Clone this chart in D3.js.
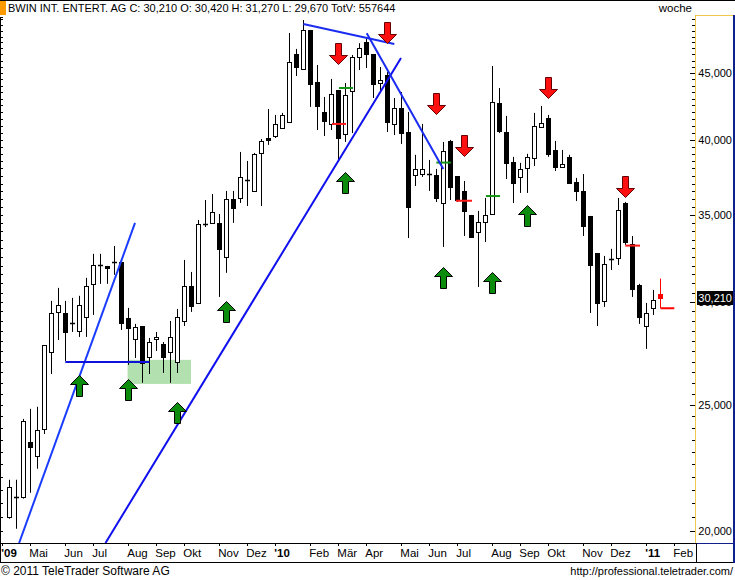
<!DOCTYPE html>
<html><head><meta charset="utf-8">
<script src="https://cdn.jsdelivr.net/npm/d3@7"></script>
<style>
body{margin:0;background:#fff}
svg{display:block}
text{font-family:"Liberation Sans",Arial,sans-serif}
</style>
</head><body>
<svg id="c" width="735" height="580"></svg>
<script>
// ---------- DATA (weekly candles, BWIN, Apr 2009 - Jan 2011) ----------
const title = "BWIN INT. ENTERT. AG";
const totalVolume = 557644;
const firstWeek = new Date(2009, 3, 10);
const opens  = [20.51,21.25,21.25,23.42,22.85,23.96,27.46,29.48,29.42,28.91,28.50,29.21,30.98,32.03,31.98,32.20,32.20,29.16,28.10,28.75,27.22,28.10,27.85,27.46,26.98,29.01,30.87,29.95,34.45,34.51,34.51,32.49,36.00,36.07,37.24,36.52,39.06,40.11,40.25,40.83,41.26,46.54,45.32,48.56,44.29,42.00,41.12,43.67,40.39,43.59,46.30,47.52,46.54,44.21,44.84,41.12,42.30,40.54,37.56,37.63,37.63,37.56,35.75,39.90,37.50,36.52,35.00,33.96,34.57,35.06,42.67,40.54,38.45,37.44,38.03,38.72,40.90,41.56,39.27,38.10,38.79,37.10,36.52,34.94,32.72,30.06,32.38,32.43,35.75,33.25,30.92,28.75,29.69,30.42];
const highs  = [21.90,21.90,24.39,24.83,24.92,27.80,30.06,30.76,30.06,30.22,30.33,31.31,32.67,32.67,31.98,33.13,32.32,29.69,28.86,28.75,28.15,28.45,27.95,29.01,29.63,32.32,31.64,34.69,35.94,36.32,35.06,36.52,36.52,39.13,38.51,39.06,40.04,42.22,41.78,41.93,48.30,46.96,49.42,48.56,45.64,43.13,44.53,43.67,44.21,46.46,47.44,47.88,46.54,45.48,45.08,43.05,43.51,42.00,38.93,41.12,38.58,37.97,39.83,39.97,37.50,37.17,35.00,35.25,36.07,45.56,43.82,41.71,38.79,38.38,39.00,41.93,42.45,41.78,39.90,39.27,38.93,37.37,37.63,34.94,32.72,32.55,32.96,36.07,35.81,33.72,30.98,29.95,30.65,31.27];
const lows   = [20.44,20.08,21.18,21.40,22.33,23.75,26.41,28.05,27.03,28.45,28.20,28.20,29.32,30.98,30.98,31.48,28.55,26.84,27.17,26.00,26.41,27.51,26.46,26.00,26.46,28.75,29.48,29.95,34.26,34.51,30.27,31.59,34.51,35.75,35.56,36.45,35.56,39.62,40.11,40.83,41.26,44.76,45.32,42.38,40.68,40.25,40.68,38.58,39.83,40.46,45.24,45.40,43.05,43.51,40.54,40.32,39.69,33.60,36.84,37.44,36.52,35.81,33.07,35.94,35.81,33.72,33.60,30.81,33.36,35.06,40.46,37.30,35.75,36.39,36.39,38.17,40.83,38.79,37.83,38.10,36.97,35.87,33.72,29.42,28.75,29.74,31.75,32.03,33.19,30.27,28.86,27.61,29.32,29.67];
const closes = [21.63,21.20,24.31,23.21,23.92,27.80,29.42,29.85,28.45,28.90,29.85,30.87,32.03,32.05,31.86,32.22,28.91,28.65,28.70,26.93,27.95,28.20,27.22,28.20,29.21,30.87,29.80,34.45,34.47,35.19,32.96,36.00,35.43,37.44,37.22,39.00,39.90,39.97,41.12,41.78,45.88,45.48,48.56,44.14,42.45,41.33,43.36,40.11,43.28,46.30,47.03,46.54,44.14,44.45,41.26,42.30,40.46,35.50,37.97,37.97,37.60,36.07,39.20,36.78,35.94,35.25,33.66,34.57,35.00,42.75,40.61,38.38,37.04,37.97,38.79,40.97,41.19,39.00,38.10,38.31,37.04,36.52,34.32,32.03,29.95,32.09,32.36,35.31,33.36,30.70,29.21,29.42,30.11,30.21];
const priceTicks = [20, 25, 30, 35, 40, 45];
const monthNames = ["Jan","Feb","Mär","Apr","Mai","Jun","Jul","Aug","Sep","Okt","Nov","Dez"];
// annotations: [weekIndex, price]
const trendSteepLine = [[2.4, 19.58], [18.96, 34.51]];
const trendLongLine  = [[14.74, 19.58], [56.96, 46.21]];
const supportLine    = [[9, 26.98], [21, 26.98]];
const topLine        = [[43, 49.08], [56, 47.37]];
const fallLine       = [[52.06, 48.28], [63, 37.97]];
const zoneBox = {from: 17.9, to: 26.96, low: 25.95, high: 27.08};
const upArrows   = [[11,26.37],[18,26.18],[25,25.14],[32,30.06],[49,37.77],[63,31.92],[70,31.64],[75,35.62]];
const downArrows = [[48,45.72],[55,47.44],[62,41.85],[66,38.86],[78,43.05],[89,36.13]];
const signalMarks = [[48.1,50.1,43.82,"g"],[47.1,49.1,41.12,"r"],[62,64.1,38.40,"g"],[64.8,67.1,35.89,"r"],[69.1,71.1,36.19,"g"],[89,91.1,33.15,"r"]];

// ---------- LAYOUT ----------
const svg = d3.select("#c");
const PL = 0, PR = 695, PT = 17, PB = 543;
const DAY = 864e5;
const origin = d3.timeDay.offset(firstWeek, -7);
const idxDate = i => new Date(origin.getTime() + i * 7 * DAY);
const x = d3.scaleTime().domain([origin, idxDate(100)]).range([2.3, 702.3]);
const y = d3.scaleLog().domain([19.58, 49.69]).range([PB, PT]);
const xi = i => x(idxDate(i));
const loc = d3.formatLocale({decimal: ",", thousands: ".", grouping: [3], currency: ["", "€"]});
const fmt = loc.format(".3f");
const crisp = v => Math.round(v) + 0.5;

const candles = opens.map((o, k) => ({date: d3.timeDay.offset(firstWeek, 7 * k), o, h: highs[k], l: lows[k], c: closes[k], last: k === opens.length - 1}));
const last = candles[candles.length - 1];

// frame / header
svg.append("line").attr("x1",0).attr("x2",735).attr("y1",0.5).attr("y2",0.5).attr("stroke","#000");
svg.append("rect").attr("x",0).attr("y",1).attr("width",6).attr("height",14).attr("fill","#ff9900");
svg.append("text").attr("x",8).attr("y",12).attr("font-size",11).attr("fill","#000")
  .text(`${title} C: ${fmt(last.c)} O: ${fmt(last.o)} H: ${fmt(last.h)} L: ${fmt(last.l)} TotV: ${totalVolume}`);
svg.append("text").attr("x",692).attr("y",12).attr("text-anchor","end").attr("font-size",11.5).text("woche");

// clip
svg.append("clipPath").attr("id","pc").append("rect").attr("x",PL+1).attr("y",PT).attr("width",PR-PL-1).attr("height",PB-PT);
const plot = svg.append("g").attr("clip-path","url(#pc)");

// zone box
plot.append("rect").attr("x",xi(zoneBox.from)).attr("y",y(zoneBox.high))
  .attr("width",xi(zoneBox.to)-xi(zoneBox.from)).attr("height",y(zoneBox.low)-y(zoneBox.high))
  .attr("fill","#b3e0af");

// candles
const cg = plot.append("g");
candles.forEach(d => {
  const cx = crisp(x(d.date));
  const col = d.last ? "#ff0000" : "#000";
  cg.append("line").attr("x1",cx).attr("x2",cx).attr("y1",y(d.h)).attr("y2",y(d.l)).attr("stroke",col);
  const yt = y(Math.max(d.o,d.c)), yb = y(Math.min(d.o,d.c));
  if (yb - yt < 1.5 && !d.last) {
    const ym = crisp((yt+yb)/2);
    cg.append("line").attr("x1",cx-2.5).attr("x2",cx+2.5).attr("y1",ym).attr("y2",ym).attr("stroke",col).attr("stroke-width",1.5);
  } else {
    const t = Math.round(yt), b = Math.max(Math.round(yb), t+2);
    cg.append("rect").attr("x",cx-2).attr("y",t+0.5).attr("width",4).attr("height",b-t)
      .attr("fill", d.last ? "#ff0000" : (d.c >= d.o ? "#fff" : "#000")).attr("stroke",col);
  }
});
// last-price marker
plot.append("line").attr("x1",crisp(x(last.date))).attr("x2",xi(96)).attr("y1",y(last.l)).attr("y2",y(last.l))
  .attr("stroke","#ff0000").attr("stroke-width",2);

// signal marks
signalMarks.forEach(([a,b,p,c]) => {
  plot.append("line").attr("x1",xi(a)).attr("x2",xi(b)).attr("y1",y(p)).attr("y2",y(p))
    .attr("stroke", c==="g" ? "#149614" : "#ff1a1a").attr("stroke-width",2);
});

// trend lines
const seg = (pts, col) => plot.append("line")
  .attr("x1",xi(pts[0][0])).attr("y1",y(pts[0][1])).attr("x2",xi(pts[1][0])).attr("y2",y(pts[1][1]))
  .attr("stroke",col).attr("stroke-width",2);
seg(trendSteepLine, "#1a3cff");
seg(trendLongLine, "#1010ee");
seg(supportLine, "#1010dd");
seg(topLine, "#1a2cf0");
seg(fallLine, "#1a2cf0");

// arrows
upArrows.forEach(([i,p]) => {
  const cx = crisp(xi(i)), t = Math.round(y(p))+0.5;
  plot.append("path").attr("d",`M${cx},${t}L${cx+9},${t+9}L${cx+3},${t+9}L${cx+3},${t+21}L${cx-3},${t+21}L${cx-3},${t+9}L${cx-9},${t+9}Z`)
    .attr("fill","#0c8c0c").attr("stroke","#000");
});
downArrows.forEach(([i,p]) => {
  const cx = crisp(xi(i)), t = Math.round(y(p))+0.5;
  plot.append("path").attr("d",`M${cx},${t}L${cx-9},${t-9}L${cx-3},${t-9}L${cx-3},${t-21}L${cx+3},${t-21}L${cx+3},${t-9}L${cx+9},${t-9}Z`)
    .attr("fill","#ff1010").attr("stroke","#600");
});

// left frame and ticks
svg.append("line").attr("x1",0.5).attr("x2",0.5).attr("y1",PT).attr("y2",563).attr("stroke","#000");
svg.append("line").attr("x1",0).attr("x2",3).attr("y1",PT+0.5).attr("y2",PT+0.5).attr("stroke","#000");
const minorVals = d3.range(20, 50, 0.5);
minorVals.forEach(v => {
  const yy = crisp(y(v));
  if (yy < PT+2 || yy > PB-1) return;
  svg.append("line").attr("x1",0).attr("x2",3).attr("y1",yy).attr("y2",yy).attr("stroke","#000");
  const major = priceTicks.includes(v);
  svg.append("line").attr("x1",major?690:692).attr("x2",695).attr("y1",yy).attr("y2",yy).attr("stroke","#000");
});

// right axis
svg.append("line").attr("x1",695.5).attr("x2",695.5).attr("y1",15).attr("y2",PB).attr("stroke","#f0c84a");
svg.append("line").attr("x1",695).attr("x2",733).attr("y1",15.5).attr("y2",15.5).attr("stroke","#f0c84a");
priceTicks.forEach(v => {
  svg.append("text").attr("x",732).attr("y",Math.min(y(v),536)+4).attr("text-anchor","end").attr("font-size",11).text(fmt(v));
});
// last price label (covers the 30,000 label as in the original)
const ly = y(last.c);
svg.append("rect").attr("x",697).attr("y",Math.round(ly)-7).attr("width",36).attr("height",14).attr("fill","#000");
svg.append("text").attr("x",732).attr("y",ly+4).attr("text-anchor","end").attr("font-size",11).attr("fill","#fff").text(fmt(last.c));

// bottom axis
svg.append("line").attr("x1",0).attr("x2",697).attr("y1",PB+0.5).attr("y2",PB+0.5).attr("stroke","#000");
svg.append("line").attr("x1",0).attr("x2",735).attr("y1",562.5).attr("y2",562.5).attr("stroke","#000");
svg.append("line").attr("x1",696.5).attr("x2",696.5).attr("y1",PB).attr("y2",563).attr("stroke","#000");
svg.append("line").attr("x1",697).attr("x2",735).attr("y1",PB+0.5).attr("y2",PB+0.5).attr("stroke","#10208a");
let prevM = null;
for (let i = 0; i <= 97; i++) {
  const d = idxDate(i), m = d.getMonth();
  if (prevM === null || m !== prevM) {
    const isYear = prevM === null || m === 0;
    const lx = xi(i);
    svg.append("line").attr("x1",crisp(lx)).attr("x2",crisp(lx)).attr("y1",PB).attr("y2",PB+3).attr("stroke","#000");
    svg.append("text").attr("x",lx-1).attr("y",557).attr("font-size",11.5)
      .attr("font-weight", isYear ? "bold" : "normal")
      .text(isYear ? "'" + String(d.getFullYear() % 100).padStart(2,"0") : monthNames[m]);
  }
  prevM = m;
}

// footer
svg.append("text").attr("x",1).attr("y",575).attr("font-size",12).text("© 2011 TeleTrader Software AG");
svg.append("text").attr("x",733).attr("y",575).attr("text-anchor","end").attr("font-size",11).text("http://professional.teletrader.com/");

// right blue frame
svg.append("rect").attr("x",733).attr("y",15).attr("width",2).attr("height",548).attr("fill","#10208a");
</script>
</body></html>
